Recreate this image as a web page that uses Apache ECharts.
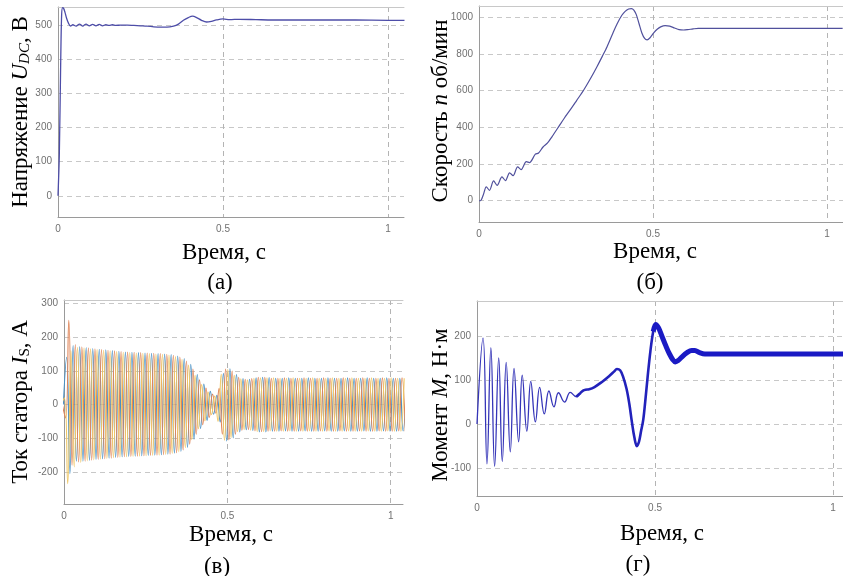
<!DOCTYPE html>
<html><head><meta charset="utf-8">
<script src="https://cdn.jsdelivr.net/npm/echarts@6/dist/echarts.min.js"></script>
<style>html,body{margin:0;padding:0;background:#fff}#c{width:843px;height:576px}</style>
</head><body><div id="c"></div>
<script>
// ---- data ----
const timeTicks = [0, 0.5, 1];
const uDcTicks = [0, 100, 200, 300, 400, 500];
const speedTicks = [0, 200, 400, 600, 800, 1000];
const currentTicks = [-200, -100, 0, 100, 200, 300];
const torqueTicks = [-100, 0, 100, 200];

// (а) DC-link voltage [t, V]
const uDc = [[0,0],[0.004,120],[0.008,380],[0.011,530],[0.014,551],[0.017,549],[0.021,538],[0.026,520],[0.032,505],[0.038,497],[0.045,501],[0.055,497],[0.065,503],[0.075,497],[0.085,503],[0.095,498],[0.105,502],[0.115,498],[0.125,502],[0.135,498],[0.145,501],[0.155,499],[0.165,501],[0.175,499],[0.19,500],[0.21,500],[0.23,499],[0.25,498],[0.27,497],[0.29,495],[0.31,494],[0.33,494],[0.35,497],[0.365,503],[0.38,514],[0.395,522],[0.408,526],[0.42,522],[0.435,514],[0.45,509],[0.465,511],[0.48,515],[0.5,518],[0.52,516],[0.55,517],[0.6,516],[0.65,515],[0.7,515],[0.8,515],[0.9,515],[1.0,514],[1.05,514]];

// (б) speed [t, rpm]
const speed = [[0,0],[0.004,0],[0.012,30],[0.021,76],[0.030,57],[0.042,108],[0.052,84],[0.066,130],[0.076,110],[0.088,152],[0.098,137],[0.111,185],[0.121,170],[0.136,213],[0.145,208],[0.162,254],[0.171,260],[0.184,293],[0.197,315],[0.21,350],[0.229,404],[0.245,450],[0.262,495],[0.28,545],[0.301,604],[0.32,665],[0.339,731],[0.355,790],[0.368,840],[0.385,915],[0.397,965],[0.41,1010],[0.42,1033],[0.43,1046],[0.438,1048],[0.445,1040],[0.452,1015],[0.46,965],[0.468,915],[0.476,885],[0.483,877],[0.492,890],[0.502,915],[0.512,935],[0.522,948],[0.535,955],[0.548,952],[0.562,942],[0.575,933],[0.588,931],[0.6,933],[0.615,937],[0.63,940],[0.7,940],[0.8,940],[0.9,940],[1.0,940],[1.045,940]];

// (в) stator phase currents: half-period extremes, sampled every 10 ms
const currentStep = 0.01;
const phaseAStart = -0.002, phaseBStart = -0.0053, phaseCStart = -0.0087;
const phaseA = [0,140,-205,175,-168,172,-168,169,-166,166,-163,164,-161,162,-159,160,-157,158,-155,156,-154,155,-153,154,-152,153,-151,152,-150,151,-149,150,-147,148,-144,144,-139,136,-127,119,-103,89,-71,61,-47,39,-29,27,-52,92,-108,106,-99,89,-81,77,-75,75,-77,79,-81,81,-81,80,
 -79,78,-79,78,-78,79,-79,78,-79,78,-78,79,-79,78,-79,78,-78,79,-79,78,-79,78,-78,79,-79,78,-79,78,-78,79,-79,78,-79,78,-78,79,-79,78,-79,78,-78,79];
const phaseB = [0,-40,250,-180,178,-170,171,-168,168,-165,165,-163,163,-161,161,-159,159,-157,157,-155,156,-154,155,-153,154,-152,153,-151,152,-150,151,-149,149,-147,146,-143,141,-135,129,-118,105,-88,73,-60,49,-38,31,-26,48,-88,105,-105,99,-88,81,-76,75,-74,77,-78,81,-80,81,-79,
 78,-79,78,-78,79,-79,78,-79,78,-78,79,-79,78,-79,78,-78,79,-79,78,-79,78,-78,79,-79,78,-79,78,-78,79,-79,78,-79,78,-78,79,-79,78,-79,78,-78,79,-79];
const phaseC = [0,20,-235,160,-185,170,-172,168,-167,165,-164,163,-162,161,-160,159,-158,157,-156,155,-155,154,-154,153,-153,152,-152,151,-151,150,-150,149,-148,147,-145,142,-140,134,-128,117,-104,87,-72,59,-48,37,-30,25,-50,90,-106,104,-98,87,-80,76,-74,73,-76,78,-80,79,-80,79,
 -78,79,-79,78,-79,78,-78,79,-79,78,-79,78,-78,79,-79,78,-79,78,-78,79,-79,78,-79,78,-78,79,-79,78,-79,78,-78,79,-79,78,-79,78,-78,79,-79,78,-79,78];

// (г) electromagnetic torque [t, N·m]
const torqueEarly = [[0,0],[0.017,195],[0.028,-90],[0.039,173],[0.0495,-96],[0.061,150],[0.071,-85],[0.082,140],[0.0935,-63],[0.104,126],[0.117,-40],[0.127,111],[0.14,-16],[0.151,97],[0.164,5],[0.176,83],[0.189,23],[0.202,75],[0.216,39],[0.229,71],[0.246,50],[0.262,72],[0.279,62],[0.29,70]];
const torqueMid = [[0.279,62],[0.29,70],[0.298,76],[0.305,78],[0.315,79],[0.33,84],[0.35,95],[0.37,108],[0.385,119],[0.393,125],[0.402,122],[0.41,108],[0.42,80],[0.428,45],[0.435,5],[0.442,-30],[0.449,-50],[0.455,-40],[0.461,-15],[0.467,10],[0.473,55],[0.479,105],[0.487,165],[0.495,210],[0.502,226]];
const torqueLate = [[0.495,210],[0.502,226],[0.51,218],[0.52,198],[0.53,178],[0.54,160],[0.55,146],[0.557,141],[0.565,144],[0.575,152],[0.59,162],[0.603,167],[0.612,167],[0.625,162],[0.64,159],[0.7,159],[0.8,159],[0.9,159],[1.0,159],[1.03,159]];

// ---- chart ----
const sampled = (start, vals) => vals.map((v, i) => [+(start + i * currentStep).toFixed(4), v]);

const grids = [
  {left: 58, top: 7, width: 346, height: 210},
  {left: 479, top: 6, width: 364, height: 216},
  {left: 64, top: 300, width: 339, height: 204},
  {left: 477, top: 301, width: 366, height: 195}
];
const xMax = [1.0485, 1.046, 1.0377, 1.028];
const yRange = [[-62, 553], [-116, 1062], [-295, 310], [-163, 279]];
const yTickSets = [uDcTicks, speedTicks, currentTicks, torqueTicks];

const tickFont = {color: '#707070', fontSize: 10, fontFamily: 'Liberation Sans, Arial, sans-serif'};
const xAxes = [], yAxes = [];
grids.forEach((g, i) => {
  xAxes.push({
    type: 'value', gridIndex: i, min: 0, max: xMax[i], position: 'bottom',
    axisLine: {show: true, onZero: false, lineStyle: {color: '#9a9a9a', width: 1}},
    axisTick: {show: false, customValues: timeTicks},
    axisLabel: Object.assign({customValues: timeTicks, margin: 7, formatter: v => String(v)}, tickFont),
    splitLine: {show: true, lineStyle: {type: [5, 4], color: '#b4b4b4', width: 1}}
  });
  xAxes.push({
    type: 'value', gridIndex: i, min: 0, max: xMax[i], position: 'top',
    axisLine: {show: true, onZero: false, lineStyle: {color: '#c8c8c8', width: 1}},
    axisTick: {show: false}, axisLabel: {show: false}, splitLine: {show: false}
  });
  yAxes.push({
    type: 'value', gridIndex: i, min: yRange[i][0], max: yRange[i][1],
    axisLine: {show: true, onZero: false, lineStyle: {color: '#9a9a9a', width: 1}},
    axisTick: {show: false, customValues: yTickSets[i]},
    axisLabel: Object.assign({customValues: yTickSets[i], margin: 6, formatter: v => String(v)}, tickFont),
    splitLine: {show: true, lineStyle: {type: [5, 4], color: '#c8c8c8', width: 1}}
  });
});

const line = (gi, data, color, width, smooth) => ({
  type: 'line', xAxisIndex: gi * 2, yAxisIndex: gi, data: data,
  showSymbol: false, symbol: 'none', smooth: smooth, clip: true,
  lineStyle: {color: color, width: width}, animation: false
});

const series = [
  line(0, uDc, '#4d4da8', 1.3, 0.3),
  line(1, speed, '#50509c', 1.2, 0.3),
  line(2, sampled(phaseAStart, phaseA), '#4a90c4', 1.1, 0.5),
  line(2, sampled(phaseBStart, phaseB), '#e0865a', 1.1, 0.5),
  line(2, sampled(phaseCStart, phaseC), '#efc766', 1.1, 0.5),
  line(3, torqueEarly, '#3535b8', 1.3, 0.45),
  line(3, torqueMid, '#2222bb', 2.6, 0.35),
  line(3, torqueLate, '#1a1ac4', 5, 0.35)
];

const serif = '"Liberation Serif", "Times New Roman", serif';
const big = 23;
const rich = {
  r: {font: big + 'px ' + serif, verticalAlign: 'bottom'},
  i: {font: 'italic ' + big + 'px ' + serif, verticalAlign: 'bottom'},
  s: {font: 'italic 15px ' + serif, verticalAlign: 'bottom'},
  su: {font: '15px ' + serif, verticalAlign: 'bottom'}
};
const txt = (x, y, text, rot) => ({
  type: 'text', x: x, y: y, rotation: rot ? Math.PI / 2 : 0,
  style: {text: text, rich: rich, font: big + 'px ' + serif, fill: '#000', align: 'center', verticalAlign: 'middle'}
});

const graphic = [
  txt(21, 112, '{r|Напряжение }{i|U}{s|DC}{r|, В}', true),
  txt(441, 111, '{r|Скорость }{i|n}{r| об/мин}', true),
  txt(21, 402, '{r|Ток статора }{i|I}{su|S}{r|, А}', true),
  txt(441, 405, '{r|Момент }{i|M}{r|, Н·м}', true),
  txt(224, 253, '{r|Время, с}', false),
  txt(655, 252, '{r|Время, с}', false),
  txt(231, 535, '{r|Время, с}', false),
  txt(662, 534, '{r|Время, с}', false),
  txt(220, 283, '{r|(а)}', false),
  txt(650, 283, '{r|(б)}', false),
  txt(217, 567, '{r|(в)}', false),
  txt(638, 565, '{r|(г)}', false)
];

const chart = echarts.init(document.getElementById('c'), null, {renderer: 'canvas'});
chart.setOption({
  backgroundColor: '#fff',
  animation: false,
  grid: grids.map(g => Object.assign({show: false}, g)),
  xAxis: xAxes,
  yAxis: yAxes,
  series: series,
  graphic: graphic
});
</script></body></html>
